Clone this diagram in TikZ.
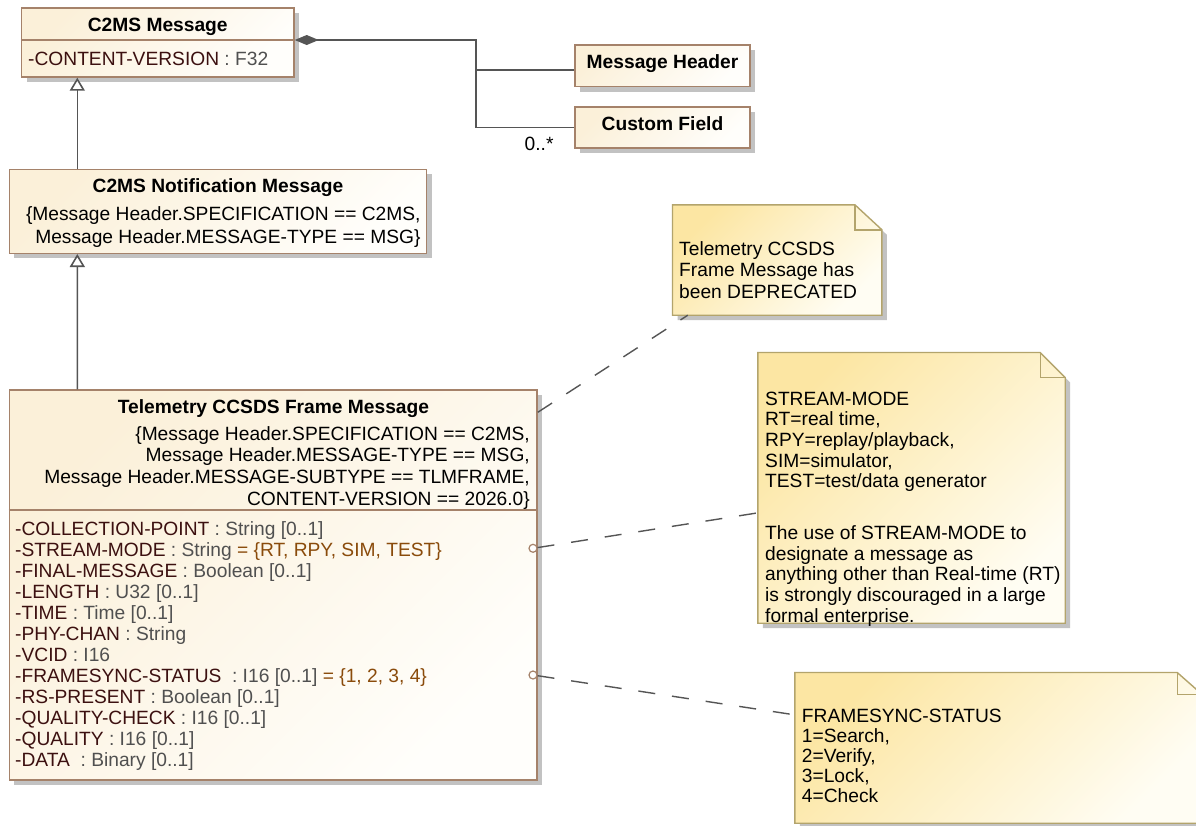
\documentclass[tikz,border=0pt]{standalone}
\usepackage{fontspec}
\setmainfont{Liberation Sans}
\usetikzlibrary{arrows.meta,shadows}

\definecolor{clsdraw}{HTML}{A5826A}
\definecolor{clstop}{HTML}{FBF0D9}
\definecolor{clsbot}{HTML}{FFFEFB}
\definecolor{notedraw}{HTML}{B3A46C}
\definecolor{notetop}{HTML}{FCE6A3}
\definecolor{notebot}{HTML}{FFFDF3}
\definecolor{shadowgray}{HTML}{C2C2C2}
\definecolor{linecol}{HTML}{555555}
\definecolor{attname}{HTML}{3C1010}
\definecolor{atttype}{HTML}{505050}
\definecolor{attval}{HTML}{8A4B0B}

\newcommand{\atname}[1]{\textcolor{attname}{#1}}
\newcommand{\attype}[1]{\textcolor{atttype}{#1}}
\newcommand{\atval}[1]{\textcolor{attval}{#1}}

\tikzset{
  cls/.style={draw=clsdraw, line width=1.4pt, top color=clstop, bottom color=clsbot, shading angle=45,
    inner sep=0pt, drop shadow={shadow xshift=5pt, shadow yshift=-5pt, fill=shadowgray, opacity=1}},
  notebase/.style={inner sep=0pt},
  notebox/.style={draw=notedraw, line width=1.4pt, top color=notetop, bottom color=notebot, shading angle=45,
    drop shadow={shadow xshift=5pt, shadow yshift=-5pt, fill=shadowgray, opacity=1}},
  divider/.style={draw=clsdraw, line width=1.4pt},
  ttl/.style={font=\bfseries\fontsize{19.2}{22}\selectfont, inner sep=0pt, anchor=base},
  txt/.style={font=\fontsize{19.2}{21}\selectfont, inner sep=0pt, align=left, anchor=north west},
  rtxt/.style={font=\fontsize{19.2}{22}\selectfont, inner sep=0pt, align=right, anchor=north east},
  gen/.style={draw=linecol, line width=1.6pt, -{Triangle[length=13pt, width=15pt, fill=white]}},
  comp/.style={draw=linecol, line width=1.6pt, {Diamond[length=24pt, width=10pt]}-},
  assoc/.style={draw=linecol, line width=1.6pt},
  anchorline/.style={draw=linecol, line width=1.4pt, dash pattern=on 17pt off 17pt},
  port/.style={circle, draw=clsdraw, fill=white, line width=1.2pt, minimum size=8pt, inner sep=0pt},
  x=1pt, y=-1pt
}

\begin{document}
\begin{tikzpicture}
\path[use as bounding box, fill=white] (0,0) rectangle (1196,825);

\node[cls, minimum width=272.5pt, minimum height=69pt] (c2ms) at (157.75,42.5) {};
\draw[divider] (c2ms.west |- 0,40) -- (c2ms.east |- 0,40);
\node[ttl] (c2msT) at (157.75,31) {C2MS Message};
\node[txt, anchor=base west] (c2msA) at (28,65) {\atname{-CONTENT-VERSION}\attype{\ : F32}};

\node[cls, minimum width=417.4pt, minimum height=84pt] (notif) at (218,211.3) {};
\node[ttl] (notifT) at (218,192) {C2MS Notification Message};
\node[rtxt, font=\fontsize{19.2}{22.7}\selectfont] (notifC) at (420.7,204.4)
  {\strut\{Message Header.SPECIFICATION == C2MS,\\\strut Message Header.MESSAGE-TYPE == MSG\}};

\node[cls, minimum width=527.7pt, minimum height=390pt] (tlm) at (273.2,585) {};
\draw[divider] (tlm.west |- 0,510) -- (tlm.east |- 0,510);
\node[ttl] (tlmT) at (273.5,413) {Telemetry CCSDS Frame Message};
\node[rtxt, font=\fontsize{19.2}{21.7}\selectfont] (tlmC) at (530,424.8)
  {\strut\{Message Header.SPECIFICATION == C2MS,\\
   \strut Message Header.MESSAGE-TYPE == MSG,\hspace*{5pt}\\
   \strut Message Header.MESSAGE-SUBTYPE == TLMFRAME,\\
   \strut CONTENT-VERSION == 2026.0\}};
\node[txt] (tlmA) at (15,520.6)
  {\strut\atname{-COLLECTION-POINT}\attype{\ : String [0..1]}\\
   \strut\atname{-STREAM-MODE}\attype{\ : String }\atval{= \{RT, RPY, SIM, TEST\}}\\
   \strut\atname{-FINAL-MESSAGE}\attype{\ : Boolean [0..1]}\\
   \strut\atname{-LENGTH}\attype{\ : U32 [0..1]}\\
   \strut\atname{-TIME}\attype{\ : Time [0..1]}\\
   \strut\atname{-PHY-CHAN}\attype{\ : String}\\
   \strut\atname{-VCID}\attype{\ : I16}\\
   \strut\atname{-FRAMESYNC-STATUS}\attype{\ \ : I16 [0..1] }\atval{= \{1, 2, 3, 4\}}\\
   \strut\atname{-RS-PRESENT}\attype{\ : Boolean [0..1]}\\
   \strut\atname{-QUALITY-CHECK}\attype{\ : I16 [0..1]}\\
   \strut\atname{-QUALITY}\attype{\ : I16 [0..1]}\\
   \strut\atname{-DATA}\attype{\ \ : Binary [0..1]}};
\node[port] (pStream) at (533,548.3) {};
\node[port] (pSync) at (533,675) {};

\node[cls, minimum width=175pt, minimum height=41.7pt] (mh) at (662.5,65.9) {};
\node[ttl] (mhT) at (662.5,68.7) {Message Header};
\node[cls, minimum width=175pt, minimum height=41pt] (cf) at (662.5,127.6) {};
\node[ttl] (cfT) at (662.5,130.3) {Custom Field};

\draw[gen] ([xshift=68.7pt]notif.north west) -- ([xshift=56.5pt]c2ms.south west);
\draw[gen] ([xshift=68.7pt]tlm.north west) -- ([xshift=68.7pt]notif.south west);

\coordinate (junc) at (476,40);
\draw[comp] ([yshift=2.5pt]c2ms.east) -- (junc) |- ([yshift=-4pt]mh.west);
\draw[assoc] (junc) |- (cf.west)
  node[at end, anchor=north east, inner sep=0pt, xshift=-20pt, yshift=-9pt, font=\fontsize{19.2}{22}\selectfont] {0..*};

\node[notebase, minimum width=209pt, minimum height=110pt] (n1) at (777.2,260) {};
\path[notebox] (n1.north west) -- ([xshift=-27pt]n1.north east) -- ([yshift=-25pt]n1.north east)
  -- (n1.south east) -- (n1.south west) -- cycle;
\draw[draw=notedraw, line width=1.4pt] ([xshift=-27pt]n1.north east) |- ([yshift=-25pt]n1.north east);
\node[txt, font=\fontsize{19.2}{21.3}\selectfont] (n1T) at (679,240.4)
  {\strut Telemetry CCSDS\\\strut Frame Message has\\\strut been DEPRECATED};

\node[notebase, minimum width=307pt, minimum height=270.3pt] (n2) at (911.5,487.85) {};
\path[notebox] (n2.north west) -- ([xshift=-25pt]n2.north east) -- ([yshift=-25pt]n2.north east)
  -- (n2.south east) -- (n2.south west) -- cycle;
\draw[draw=notedraw, line width=1.4pt] ([xshift=-25pt]n2.north east) |- ([yshift=-25pt]n2.north east);
\node[txt, font=\fontsize{19.2}{19.2}\selectfont] (n2T) at (765,391.6)
  {\strut STREAM-MODE\\\strut RT=real time,\\\strut RPY=replay/playback,\\\strut SIM=simulator,\\
   \strut TEST=test/data generator\\[30.8pt]\strut The use of STREAM-MODE to\\\strut designate a message as\\
   \strut anything other than Real-time (RT)\\\strut is strongly discouraged in a large\\\strut formal enterprise.};

\node[notebase, minimum width=407pt, minimum height=150.3pt] (n3) at (998.5,747.85) {};
\path[notebox] (n3.north west) -- ([xshift=-25pt]n3.north east) -- ([yshift=-22pt]n3.north east)
  -- (n3.south east) -- (n3.south west) -- cycle;
\draw[draw=notedraw, line width=1.4pt] ([xshift=-25pt]n3.north east) |- ([yshift=-22pt]n3.north east);
\node[txt, font=\fontsize{19.2}{20}\selectfont] (n3T) at (801.7,708)
  {\strut FRAMESYNC-STATUS\\\strut 1=Search,\\\strut 2=Verify,\\\strut 3=Lock,\\\strut 4=Check};

\draw[anchorline] ([yshift=-23pt]tlm.north east) -- ([xshift=15.3pt]n1.south west);
\draw[anchorline] (pStream) -- ([yshift=-25pt]n2.west);
\draw[anchorline] (pSync) -- ([yshift=33pt]n3.west);
\end{tikzpicture}
\end{document}
